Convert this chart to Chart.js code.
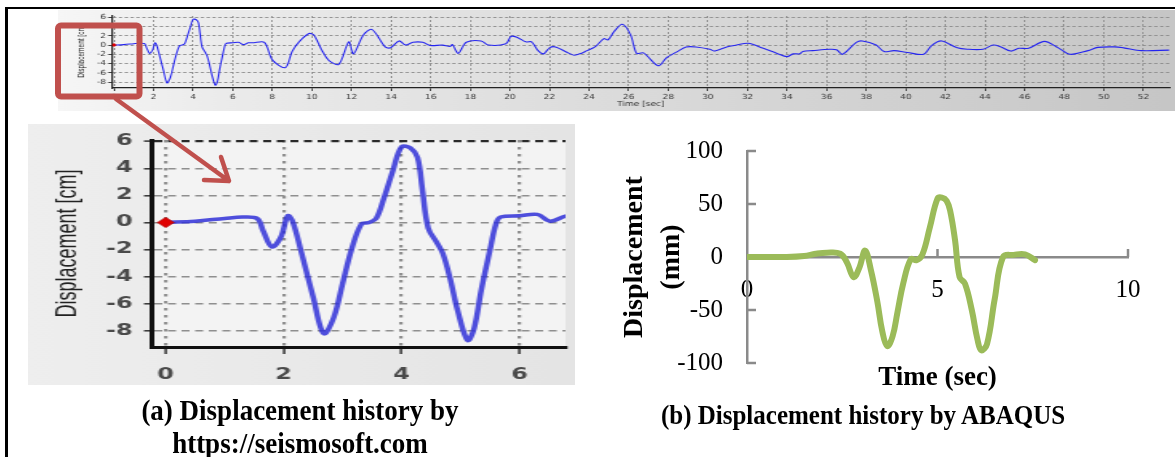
<!DOCTYPE html>
<html>
<head>
<meta charset="utf-8">
<script src="https://cdn.jsdelivr.net/npm/chart.js@4.4.1/dist/chart.umd.min.js"></script>
<style>
  html, body { margin: 0; padding: 0; background: #fff; }
  body { width: 1175px; height: 457px; position: relative; overflow: hidden; font-family: "Liberation Serif", "Times New Roman", serif; }
  .abs { position: absolute; }
  #frameTop { left: 6px; top: 7px; width: 1169px; height: 2px; background: #000; }
  #frameLeft { left: 5px; top: 7px; width: 3px; height: 450px; background: #000; }
  #stripBox { left: 58px; top: 10px; width: 859px; height: 101px; transform: scaleX(1.3); transform-origin: 0 0; }
  #zoomBox { left: 28px; top: 124px; width: 342px; height: 261px; transform: scaleX(1.6); transform-origin: 0 0; }
  #abaqusBox { left: 560px; top: 140px; width: 600px; height: 270px; }
  #marks { left: 0; top: 0; z-index: 5; pointer-events: none; }
  .cap { position: absolute; width: 700px; text-align: center; font-weight: bold; white-space: nowrap; color: #000; transform: scaleY(1.12); z-index: 6; }
</style>
</head>
<body>
<div id="frameTop" class="abs"></div>
<div id="frameLeft" class="abs"></div>

<div id="stripBox" class="abs"><canvas id="stripChart" width="859" height="101"></canvas></div>
<div id="zoomBox" class="abs"><canvas id="zoomChart" width="342" height="261"></canvas></div>
<div id="abaqusBox" class="abs"><canvas id="abaqusChart" width="600" height="270"></canvas></div>
<canvas id="marks" class="abs" width="1175" height="457"></canvas>

<div class="cap" style="left:-50px; top:397px; font-size:27px; line-height:27px;">(a) Displacement history by</div>
<div class="cap" style="left:-50px; top:430px; font-size:27px; line-height:27px;">https://seismosoft.com</div>
<div class="cap" style="left:513px; top:402px; font-size:25px; line-height:25px;">(b) Displacement history by ABAQUS</div>

<script>
// Recorded ground displacement history (time in s, displacement in cm)
const timeSec = [
  0, 0.5, 1.0, 1.3, 1.55, 1.65, 1.8, 1.95, 2.07, 2.15, 2.3, 2.5, 2.68, 2.85, 3.0, 3.15, 3.32, 3.45, 3.57,
  3.7, 3.85, 4.0, 4.15, 4.27, 4.35, 4.45, 4.6, 4.7, 4.82, 4.95, 5.12, 5.23, 5.35, 5.5, 5.6, 5.68, 6.0,
  6.3, 6.52, 6.8, 7.0, 7.6, 8.0, 8.65, 9.0, 9.35, 9.85, 10.1, 10.5, 10.85, 11.36, 11.86, 12.1, 12.6,
  13.03, 13.7, 13.97, 14.4, 14.73, 15.1, 15.6, 15.97, 16.6, 16.97, 17.1, 17.39, 17.8, 18.55, 18.9,
  19.8, 20.06, 20.4, 20.8, 21.1, 21.4, 21.7, 22.0, 22.3, 23.0, 23.25, 23.6, 23.9, 24.3, 24.75, 24.95,
  25.26, 25.68, 26.1, 26.4, 26.75, 27.5, 27.9, 28.5, 28.9, 29.4, 30.1, 30.35, 30.95, 31.45, 32.04,
  32.8, 33.5, 34.0, 34.3, 34.64, 34.8, 35.3, 36.15, 36.5, 36.8, 37.5, 37.8, 38.5, 38.9, 39.4, 40.08,
  40.9, 41.3, 41.8, 42.6, 43.1, 43.9, 44.4, 44.75, 45.3, 45.7, 46.2, 47.0, 47.7, 48.3, 49.2, 49.7,
  50.55, 51.0, 51.9, 53.3
];
const dispCm = [
  0, 0.1, 0.3, 0.4, 0.3, -0.6, -1.8, -1.1, 0.5, 0.1, -2.2, -5.5, -8.2, -7.0, -4.5, -2.0, -0.1, 0.0, 0.3,
  1.8, 3.8, 5.6, 5.5, 4.8, 2.5, -0.4, -1.5, -2.3, -4.1, -6.5, -8.7, -7.8, -5.0, -2.0, -0.1, 0.4, 0.5,
  0.6, 0.1, 0.5, 0.5, 0.6, -3.2, -4.9, -1.4, 0.7, 2.5, 2.2, -1.1, -3.3, -4.2, 0.7, -1.9, 2.2,
  3.4, -0.4, -0.6, 0.9, 0.0, 0.6, 0.6, -0.1, 0.0, -0.3, 0.1, -1.8, 0.6, 0.9, 0.0,
  0.3, 1.9, 1.6, 0.7, 0.7, -1.1, -1.9, -0.6, -0.4, -1.8, -2.2, -1.8, -1.2, -0.4, 1.4, 1.1,
  2.9, 4.5, 2.2, -1.8, -1.7, -4.5, -2.8, -1.3, -0.4, -0.4, -0.9, -1.3, -0.4, 0.0, 0.4,
  -0.7, -1.8, -2.5, -1.9, -1.9, -1.4, -1.2, -0.9, -1.0, -2.0, 0.6, 0.9, 0.0, -1.4, -1.2, -1.6,
  -2.0, -0.1, 0.9, -0.6, -0.9, -0.9, 0.0, -0.3, -1.3, -0.7, -0.7, 0.8, -0.6, -2.0, -1.2, -0.5,
  -0.4, -0.6, -1.2, -1.1
];

// Axis ticks
const stripTimeTicks = [0, 2, 4, 6, 8, 10, 12, 14, 16, 18, 20, 22, 24, 26, 28, 30, 32, 34, 36, 38, 40, 42, 44, 46, 48, 50, 52];
const zoomTimeTicks = [0, 2, 4, 6];
const dispTicksCm = [6, 4, 2, 0, -2, -4, -6, -8];

// Finite element result (time in s, displacement in mm)
const abaqusTime = [
  0, 0.5, 1.0, 1.5, 1.8, 2.1, 2.45, 2.62, 2.8, 2.95, 3.1, 3.25, 3.42, 3.55, 3.68, 3.82, 3.95, 4.1,
  4.3, 4.45, 4.6, 4.8, 5.0, 5.12, 5.24, 5.33, 5.46, 5.58, 5.72, 5.9, 6.05, 6.15, 6.3, 6.5, 6.72,
  7.0, 7.3, 7.56
];
const abaqusDispMm = [
  0, 0, 0, 1, 3, 4, 3, -5, -19, -10, 6, -12, -42, -70, -84, -75, -52, -25,
  -2, -3, 2, 28, 55, 56, 53, 44, 16, -19, -25, -50, -78, -88, -82, -40, 0,
  2, 2.5, -3
];

const record = timeSec.map((t, i) => ({ x: t, y: dispCm[i] }));
const abaqus = abaqusTime.map((t, i) => ({ x: t, y: abaqusDispMm[i] }));

// Panel / plot-area background fill
const panelBg = {
  id: 'panelBg',
  beforeDraw(chart, args, opts) {
    const { ctx, chartArea: a, width, height } = chart;
    ctx.save();
    if (opts.panel) {
      const g = ctx.createLinearGradient(0, 0, width, 0);
      opts.panel.forEach(([s, c]) => g.addColorStop(s, c));
      ctx.fillStyle = g;
      ctx.fillRect(0, 0, width, height);
    }
    if (opts.plot) {
      ctx.fillStyle = opts.plot;
      ctx.fillRect(a.left, a.top, a.right - a.left, a.bottom - a.top);
    }
    ctx.restore();
  }
};

// Short tick marks pointing into the plot (up from the x axis, right of the y axis)
const insideTicks = {
  id: 'insideTicks',
  beforeDatasetsDraw(chart) {
    const { ctx, scales: { x, y } } = chart;
    const y0 = y.getPixelForValue(0);
    ctx.save();
    ctx.strokeStyle = '#8a8a8a';
    ctx.lineWidth = 2.5;
    x.ticks.forEach(t => {
      if (t.value === 0) return;
      const px = x.getPixelForValue(t.value);
      ctx.beginPath(); ctx.moveTo(px, y0); ctx.lineTo(px, y0 - 8); ctx.stroke();
    });
    y.ticks.forEach(t => {
      const py = y.getPixelForValue(t.value);
      ctx.beginPath(); ctx.moveTo(x.left, py); ctx.lineTo(x.left + 9, py); ctx.stroke();
    });
    ctx.restore();
  }
};

Chart.defaults.animation = false;

// Full record strip
new Chart(document.getElementById('stripChart'), {
  type: 'line',
  data: { datasets: [{
    data: record,
    borderColor: '#2424f0',
    borderWidth: 1.1,
    tension: 0.3,
    pointRadius: c => (c.dataIndex === 0 ? 2 : 0),
    pointStyle: 'rectRot',
    pointBackgroundColor: '#e00000',
    pointBorderWidth: 0
  }] },
  options: {
    responsive: false, devicePixelRatio: 1,
    layout: { padding: { top: 6, right: 0, left: 0, bottom: 0 } },
    plugins: {
      legend: { display: false }, tooltip: { enabled: false },
      panelBg: { panel: [[0, '#f6f6f6'], [0.15, '#ebebeb'], [0.55, '#d9d9d9'], [1, '#c6c6c6']] }
    },
    scales: {
      x: {
        type: 'linear', min: -0.1, max: 53.32,
        afterBuildTicks: s => { s.ticks = stripTimeTicks.map(v => ({ value: v })); },
        afterFit: s => { s.height = 23; },
        ticks: { autoSkip: false, maxRotation: 0, padding: 1.8, color: '#3a3a3a', font: { family: 'DejaVu Sans', size: 7 } },
        grid: { color: '#8a8a8a', lineWidth: 0.9, tickLength: 3, tickColor: '#333' },
        border: { color: '#222', width: 1.3, dash: [2, 2] },
        title: { display: true, text: 'Time [sec]', color: '#333', font: { family: 'DejaVu Sans', size: 7 }, padding: { top: 0, bottom: 2.8 } }
      },
      y: {
        min: -9.3, max: 6.3,
        afterBuildTicks: s => { s.ticks = dispTicksCm.map(v => ({ value: v })); },
        afterFit: s => { s.width = 41.5; },
        ticks: { autoSkip: false, padding: 1.6, color: '#3a3a3a', font: { family: 'DejaVu Sans', size: 7 }, callback: v => (v === 4 ? '' : v) },
        grid: { color: '#8a8a8a', lineWidth: 0.9, tickLength: 3, tickColor: '#333' },
        border: { color: '#222', width: 1.3, dash: [2.5, 2] },
        title: { display: true, text: 'Displacement [cm', color: '#222', font: { family: 'Liberation Sans', size: 6.5 }, padding: { top: 14.6, bottom: 0 } }
      }
    }
  },
  plugins: [panelBg]
});

// First seconds of the record
new Chart(document.getElementById('zoomChart'), {
  type: 'line',
  data: { datasets: [{
    data: record,
    borderColor: 'rgba(48,48,215,0.85)',
    borderWidth: 3.5,
    tension: 0.35,
    pointRadius: c => (c.dataIndex === 0 ? 5 : 0),
    pointStyle: 'rectRot',
    pointBackgroundColor: '#e00000',
    pointBorderColor: '#c00000',
    pointBorderWidth: 1
  }] },
  options: {
    responsive: false, devicePixelRatio: 1,
    layout: { padding: { top: 16, right: 1.4, left: 0, bottom: 0 } },
    plugins: {
      legend: { display: false }, tooltip: { enabled: false },
      panelBg: { panel: [[0, '#eeeeee'], [1, '#e4e4e4']], plot: '#f3f3f3' }
    },
    scales: {
      x: {
        type: 'linear', min: -0.233, max: 6.78,
        afterBuildTicks: s => { s.ticks = zoomTimeTicks.map(v => ({ value: v })); },
        afterFit: s => { s.height = 38; },
        ticks: { autoSkip: false, maxRotation: 0, padding: 12.5, color: '#4a4a4a', font: { family: 'DejaVu Sans', size: 15, weight: 'bold' } },
        grid: { color: '#8f8f8f', lineWidth: 2.2, tickLength: 7, tickColor: '#333', tickWidth: 1.5 },
        border: { color: '#111', width: 3, dash: [2.5, 4.5] }
      },
      y: {
        min: -9.19, max: 6.09,
        afterBuildTicks: s => { s.ticks = dispTicksCm.map(v => ({ value: v })); },
        afterFit: s => { s.width = 77.5; },
        ticks: { autoSkip: false, padding: 7, color: '#4a4a4a', font: { family: 'DejaVu Sans', size: 15, weight: 'bold' } },
        grid: { color: c => (c.tick && c.tick.value === 6 ? '#2a2a2a' : '#8f8f8f'), lineWidth: c => (c.tick && c.tick.value === 6 ? 2.2 : 1.6), tickLength: 5, tickColor: '#333', tickWidth: 1.5 },
        border: { color: '#111', width: 3, dash: [5, 3.5] },
        title: { display: true, text: 'Displacement [cm]', color: '#222', font: { family: 'Liberation Sans', size: 18 }, padding: { top: 14, bottom: 0 } }
      }
    }
  },
  plugins: [panelBg]
});

// Finite element result
new Chart(document.getElementById('abaqusChart'), {
  type: 'line',
  data: { datasets: [{
    data: abaqus,
    borderColor: '#9bbb59',
    borderWidth: 6,
    tension: 0.4,
    pointRadius: 0,
    borderCapStyle: 'round',
    borderJoinStyle: 'round'
  }] },
  options: {
    responsive: false, devicePixelRatio: 1,
    layout: { padding: { top: 11, right: 32, left: 0, bottom: 47 } },
    plugins: { legend: { display: false }, tooltip: { enabled: false } },
    scales: {
      x: {
        type: 'linear', position: { y: 0 }, min: 0, max: 10,
        afterFit: s => { s.height = 137; s.paddingLeft = 0; s.paddingRight = 0; },
        ticks: { stepSize: 5, padding: 18, color: '#000', maxRotation: 0, font: { family: 'Liberation Serif', size: 25 } },
        grid: { display: true, drawOnChartArea: false, drawTicks: false },
        border: { color: '#8a8a8a', width: 2.5 },
        title: { display: true, text: 'Time (sec)', color: '#000', font: { family: 'Liberation Serif', size: 27, weight: 'bold' }, padding: { top: 0, bottom: 0 } }
      },
      y: {
        min: -100, max: 100,
        afterFit: s => { s.width = 187; s.paddingTop = 0; s.paddingBottom = 0; },
        ticks: { stepSize: 50, padding: 24, color: '#000', font: { family: 'Liberation Serif', size: 25 } },
        grid: { display: true, drawOnChartArea: false, drawTicks: false },
        border: { color: '#8a8a8a', width: 2.5 },
        title: { display: true, text: ['Displacement', '(mm)'], color: '#000', font: { family: 'Liberation Serif', size: 28, weight: 'bold', lineHeight: 1.3 }, padding: { top: 57, bottom: 0 } }
      }
    }
  },
  plugins: [insideTicks]
});

// Callout: frame around the start of the record and arrow to the enlarged view
(function drawCallout() {
  const ctx = document.getElementById('marks').getContext('2d');
  ctx.strokeStyle = '#c0504d';
  ctx.lineJoin = 'round';
  ctx.lineCap = 'round';
  ctx.lineWidth = 6;
  ctx.beginPath();
  ctx.roundRect(58, 25.5, 81.5, 71, 3);
  ctx.stroke();
  ctx.lineWidth = 4.5;
  ctx.beginPath();
  ctx.moveTo(116, 99); ctx.lineTo(229, 181);
  ctx.moveTo(204, 180); ctx.lineTo(229, 181); ctx.lineTo(221, 157);
  ctx.stroke();
})();
</script>
</body>
</html>
